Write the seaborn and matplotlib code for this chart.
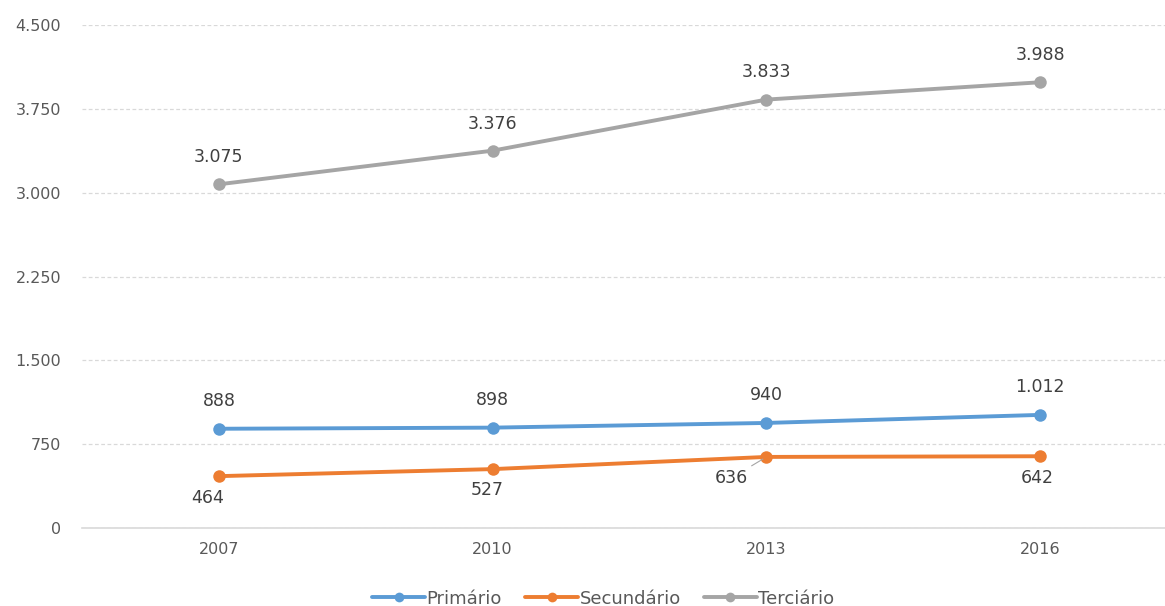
import matplotlib
matplotlib.use("Agg")
import matplotlib.pyplot as plt
from matplotlib.ticker import FuncFormatter, MultipleLocator
import seaborn as sns
import pandas as pd

years = ["2007", "2010", "2013", "2016"]
primario = [888, 898, 940, 1012]
secundario = [464, 527, 636, 642]
terciario = [3075, 3376, 3833, 3988]
series_names = ["Primário", "Secundário", "Terciário"]
colors = ["#5B9BD5", "#ED7D31", "#A5A5A5"]

df = pd.DataFrame({
    "Ano": years * 3,
    "Valor": primario + secundario + terciario,
    "Setor": [s for s in series_names for _ in years],
})

sns.set_theme(style="white")
plt.rcParams["font.family"] = ["DejaVu Sans"]

fig = plt.figure(figsize=(11.65, 6.06), dpi=100)
ax = fig.add_axes([0.0704, 0.1287, 0.94, 0.83])

sns.lineplot(data=df, x="Ano", y="Valor", hue="Setor", palette=colors,
             marker="o", markersize=9, markeredgewidth=0, linewidth=2.8,
             ax=ax, legend=False, sort=False)

def fmt(v):
    return f"{int(round(v)):,}".replace(",", ".")

ax.set_xlim(-0.5, 3.5)
ax.set_ylim(0, 4500)
ax.yaxis.set_major_locator(MultipleLocator(750))
ax.yaxis.set_major_formatter(FuncFormatter(lambda v, p: fmt(v)))
ax.set_xlabel("")
ax.set_ylabel("")
ax.grid(axis="y", color="#D9D9D9", linestyle=(0, (3, 2)), linewidth=0.9)
ax.grid(axis="x", visible=False)
for s in ["top", "right", "left"]:
    ax.spines[s].set_visible(False)
ax.spines["bottom"].set_color("#D9D9D9")
ax.spines["bottom"].set_linewidth(1.2)
ax.tick_params(axis="both", length=0, labelsize=11.5, labelcolor="#595959")
ax.tick_params(axis="y", pad=15)
ax.tick_params(axis="x", pad=10)

label_kw = dict(fontsize=12.5, color="#404040", ha="center", va="center")
for i, v in enumerate(primario):
    ax.annotate(fmt(v), (i, v), xytext=(0, 20), textcoords="offset points", **label_kw)
for i, v in enumerate(terciario):
    ax.annotate(fmt(v), (i, v), xytext=(0, 19.5), textcoords="offset points", **label_kw)
secundario_offsets = [(-8, -15.5), (-4, -15), (-25, -15), (-2, -16)]
for i, v in enumerate(secundario):
    extra = {}
    if i == 2:
        extra["arrowprops"] = dict(arrowstyle="-", color="#A5A5A5", lw=0.8,
                                   shrinkA=0, shrinkB=3)
    ax.annotate(fmt(v), (i, v), xytext=secundario_offsets[i],
                textcoords="offset points", **label_kw, **extra)

handles = [plt.Line2D([], [], color=c, marker="o", markersize=7, markeredgewidth=0,
                      linewidth=2.8) for c in colors]
fig.legend(handles, series_names, loc="center", bbox_to_anchor=(0.518, 0.012),
           ncol=3, frameon=False, fontsize=13, labelcolor="#595959",
           handlelength=2.9, handletextpad=0.1, columnspacing=1.3)

fig.savefig("out.png", dpi=100)
